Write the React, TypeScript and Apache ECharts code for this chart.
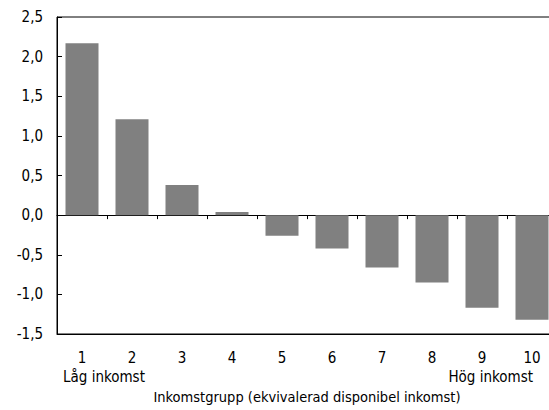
import React, { useEffect, useRef } from "react";
import * as echarts from "echarts";

const categories = ["1", "2", "3", "4", "5", "6", "7", "8", "9", "10"];
const values = [2.17, 1.21, 0.38, 0.04, -0.26, -0.42, -0.66, -0.85, -1.17, -1.32];
const lowLabel = "Låg inkomst";
const highLabel = "Hög inkomst";
const axisTitle = "Inkomstgrupp (ekvivalerad disponibel inkomst)";

const FONT = '"Liberation Sans Narrow", "DejaVu Sans Condensed", "Roboto Condensed", sans-serif';

export default function App() {
  const ref = useRef<HTMLDivElement>(null);
  useEffect(() => {
    if (!ref.current) return;
    const chart = echarts.init(ref.current, undefined, { renderer: "svg" });
    chart.setOption({
      animation: false,
      textStyle: { fontFamily: FONT },
      grid: {
        left: 57,
        top: 17,
        width: 500,
        bottom: 76,
        containLabel: false,
        outerBoundsMode: "none",
        show: true,
        borderColor: "#000",
        borderWidth: 1,
        backgroundColor: "transparent",
      },
      xAxis: [
        {
          type: "category",
          data: categories,
          axisLine: { onZero: true, lineStyle: { color: "#000", width: 1 } },
          axisTick: { show: true, length: 4, lineStyle: { color: "#000" } },
          axisLabel: { show: false },
        },
        {
          type: "category",
          data: categories,
          position: "bottom",
          axisLine: { onZero: false, show: true, lineStyle: { color: "#000", width: 1 } },
          axisTick: { show: false },
          axisLabel: { show: true, margin: 16, fontSize: 15, color: "#000", fontFamily: FONT },
          name: axisTitle,
          nameLocation: "middle",
          nameGap: 55,
          nameTextStyle: { fontSize: 14.5, color: "#000", fontFamily: FONT },
        },
      ],
      yAxis: {
        type: "value",
        min: -1.5,
        max: 2.5,
        interval: 0.5,
        axisLine: { show: true, lineStyle: { color: "#000", width: 1 } },
        axisTick: { show: true, inside: true, length: 5, lineStyle: { color: "#000" } },
        splitLine: { show: false },
        axisLabel: {
          fontSize: 15,
          color: "#000",
          margin: 14,
          fontFamily: FONT,
          formatter: (v: number) => v.toFixed(1).replace(".", ","),
        },
      },
      series: [
        {
          type: "bar",
          data: values,
          xAxisIndex: 0,
          barCategoryGap: "34%",
          itemStyle: { color: "#808080" },
        },
      ],
      graphic: [
        {
          type: "text",
          x: 63,
          y: 377,
          style: { text: lowLabel, font: `15px ${FONT}`, fill: "#000", align: "left", verticalAlign: "middle" },
        },
        {
          type: "text",
          x: 533,
          y: 377,
          style: { text: highLabel, font: `15px ${FONT}`, fill: "#000", align: "right", verticalAlign: "middle" },
        },
      ],
    });
    return () => chart.dispose();
  }, []);
  return <div ref={ref} style={{ position: "absolute", left: 0, top: 0, width: 549, height: 410 }} />;
}
